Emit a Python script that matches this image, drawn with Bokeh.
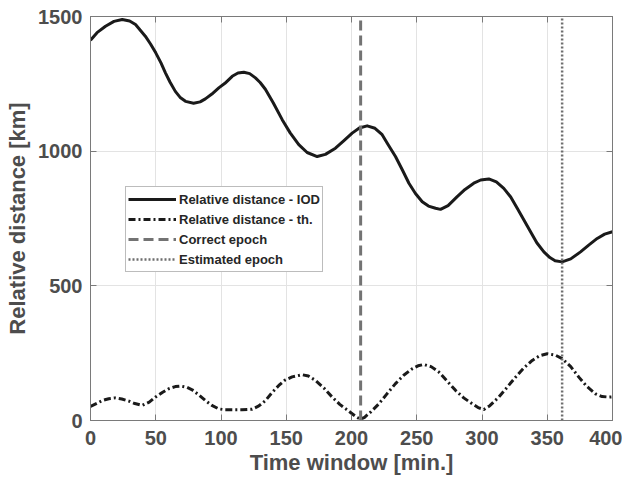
from bokeh.plotting import figure
from bokeh.models import Range1d, FixedTicker, LinearAxis, Legend, LegendItem
from bokeh.embed import file_html
from bokeh.resources import INLINE

# ---- data ----
x_iod = [0, 5, 11.5, 18, 24.3, 30, 34.5, 42, 46, 50, 54, 57.5, 61, 65, 69, 72.8, 79, 84, 88,
         93, 98.3, 103, 108.6, 113, 117.5, 122, 126.4, 130, 134, 140, 146.9, 153, 159.6, 166,
         173.7, 180, 187.7, 194, 200.5, 206, 212, 218, 223.5, 228, 233.7, 239, 244, 249,
         254.2, 259, 264.4, 268.2, 274, 281, 287, 293.7, 299, 305.2, 311, 316.7, 322, 327,
         332, 337.2, 342, 347.4, 352, 356, 361.4, 368, 375.5, 382, 388.3, 394, 400]
y_iod = [1412, 1440, 1464, 1482, 1489, 1483, 1470, 1427, 1398, 1365, 1328, 1290, 1256, 1222,
         1198, 1185, 1178, 1183, 1194, 1212, 1235, 1252, 1278, 1290, 1293, 1288, 1272, 1255,
         1230, 1180, 1117, 1068, 1024, 995, 980, 988, 1011, 1038, 1067, 1086, 1094, 1085,
         1061, 1025, 980, 930, 881, 843, 812, 796, 788, 784, 798, 831, 858, 881, 893, 897,
         886, 862, 830, 788, 745, 701, 660, 626, 605, 593, 589, 600, 626, 652, 676, 692, 701]

x_th = [0, 5, 9, 14, 19.2, 24, 29.4, 34, 39.6, 45, 49.8, 55, 60, 65, 69, 74, 77.9, 83, 88.1,
        93, 98.3, 103, 108.6, 116, 123.9, 129, 134.1, 139, 144.3, 149, 154.5, 162.2, 167,
        172.4, 179, 185.2, 191, 195.4, 200.5, 204, 206.9, 210, 215, 221, 227, 233.7, 240,
        246.5, 251, 255.4, 261, 266.9, 273, 279.7, 286, 292.5, 297, 301.4, 306, 312.9, 319,
        325.7, 332, 338.5, 344, 350, 356, 361.4, 368, 374.2, 380, 387, 392, 397.2, 400]
y_th = [52, 64, 74, 81, 84, 80, 72, 63, 56, 68, 87, 104, 118, 126, 128, 123, 114, 95, 74,
        56, 43, 40, 40, 40, 42, 54, 74, 103, 130, 150, 162, 170, 165, 149, 120, 87, 60, 44,
        25, 12, 5, 12, 33, 62, 98, 137, 168, 192, 203, 208, 200, 180, 148, 112, 84, 62, 48,
        41, 55, 87, 122, 161, 195, 223, 240, 248, 243, 230, 200, 161, 128, 99, 89, 87, 88]

correct_epoch = 207
estimated_epoch = 361.4

x_ticks = [0, 50, 100, 150, 200, 250, 300, 350, 400]
y_ticks = [0, 500, 1000, 1500]
x_lim = [0, 400]
y_lim = [0, 1500]

FONT = "Liberation Sans"
LABEL_COLOR = "#4d4d4d"
AXIS_COLOR = "#7a7a7a"

p = figure(width=622, height=478, output_backend="svg", toolbar_location=None,
           x_range=Range1d(*x_lim), y_range=Range1d(*y_lim),
           min_border_left=90, min_border_right=10, min_border_top=16, min_border_bottom=58)
p.outline_line_color = AXIS_COLOR
p.background_fill_color = "white"
p.border_fill_color = "white"

for ax in (p.xaxis[0], p.yaxis[0]):
    ax.major_label_text_font = FONT
    ax.major_label_text_font_style = "bold"
    ax.major_label_text_font_size = "20px"
    ax.major_label_text_color = LABEL_COLOR
    ax.axis_label_text_font = FONT
    ax.axis_label_text_font_style = "bold"
    ax.axis_label_text_font_size = "22px"
    ax.axis_label_text_color = LABEL_COLOR
    ax.axis_line_color = AXIS_COLOR
    ax.major_tick_line_color = AXIS_COLOR
    ax.major_tick_in = 6
    ax.major_tick_out = 0
    ax.minor_tick_line_color = None

p.xaxis[0].ticker = FixedTicker(ticks=x_ticks)
p.yaxis[0].ticker = FixedTicker(ticks=y_ticks)
p.xaxis[0].axis_label = "Time window [min.]"
p.yaxis[0].axis_label = "Relative distance [km]"
p.xaxis[0].major_label_standoff = 10
p.yaxis[0].major_label_standoff = 8
p.xaxis[0].axis_label_standoff = 2
p.yaxis[0].axis_label_standoff = 5

top = LinearAxis(ticker=FixedTicker(ticks=x_ticks), major_label_text_font_size="0px",
                 axis_line_color=AXIS_COLOR, major_tick_line_color=AXIS_COLOR,
                 major_tick_in=6, major_tick_out=0, minor_tick_line_color=None,
                 major_label_standoff=0)
right = LinearAxis(ticker=FixedTicker(ticks=y_ticks), major_label_text_font_size="0px",
                   axis_line_color=AXIS_COLOR, major_tick_line_color=AXIS_COLOR,
                   major_tick_in=6, major_tick_out=0, minor_tick_line_color=None,
                   major_label_standoff=0)
p.add_layout(top, "above")
p.add_layout(right, "right")

p.xgrid.ticker = FixedTicker(ticks=x_ticks)
p.ygrid.ticker = FixedTicker(ticks=y_ticks)
p.grid.grid_line_color = "#e3e3e3"
p.grid.grid_line_width = 1

r_iod = p.line(x_iod, y_iod, line_color="#1a1a1a", line_width=3, line_join="round")
r_th = p.line(x_th, y_th, line_color="#1a1a1a", line_width=3, line_dash="7 3 2 3",
              line_join="round")
r_ce = p.line([correct_epoch, correct_epoch], y_lim, line_color="#737373", line_width=3,
              line_dash="10 5")
r_ee = p.line([estimated_epoch, estimated_epoch], y_lim, line_color="#6e6e6e", line_width=2.5,
              line_dash="2 2")

legend = Legend(items=[
    LegendItem(label="Relative distance - IOD", renderers=[r_iod]),
    LegendItem(label="Relative distance - th.", renderers=[r_th]),
    LegendItem(label="Correct epoch", renderers=[r_ce]),
    LegendItem(label="Estimated epoch", renderers=[r_ee]),
], location=(35, 148))
legend.label_text_font = FONT
legend.label_text_font_style = "bold"
legend.label_text_font_size = "13px"
legend.label_text_color = "#262626"
legend.glyph_width = 48
legend.glyph_height = 20
legend.label_height = 20
legend.spacing = 0
legend.padding = 2
legend.margin = 0
legend.label_standoff = 3
legend.border_line_color = "#7a7a7a"
legend.border_line_width = 1
legend.background_fill_color = "white"
legend.background_fill_alpha = 1
p.add_layout(legend, "center")

open("out.html", "w").write(file_html(p, INLINE))
